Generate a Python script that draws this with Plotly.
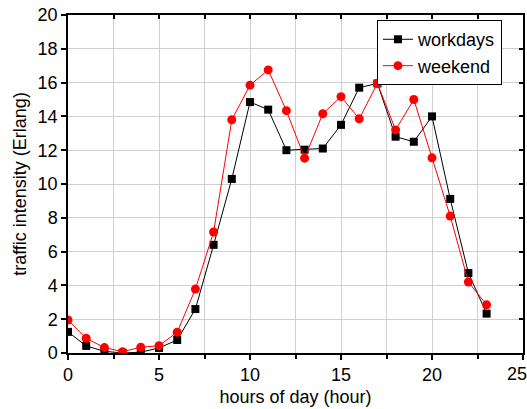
import plotly.graph_objects as go

hours = list(range(24))
workdays = [1.25, 0.42, 0.1, 0.0, 0.05, 0.3, 0.77, 2.6, 6.4, 10.3, 14.85, 14.4,
            12.0, 12.03, 12.1, 13.5, 15.7, 15.95, 12.8, 12.5, 14.0, 9.12, 4.73, 2.33]
weekend = [1.95, 0.87, 0.32, 0.08, 0.34, 0.43, 1.23, 3.78, 7.16, 13.8, 15.85, 16.75,
           14.34, 11.53, 14.16, 15.17, 13.86, 15.95, 13.2, 15.0, 11.55, 8.1, 4.2, 2.85]
x_tickvals = [0, 5, 10, 15, 20, 25]
x_ticktext = ["0", "5", "10", "15", "20", "25"]

FONT = "Liberation Sans, Arial, sans-serif"

fig = go.Figure()
fig.add_trace(go.Scatter(x=hours, y=workdays, mode="lines+markers", name="workdays",
                         line=dict(color="black", width=1),
                         marker=dict(symbol="square", size=8, color="black")))
fig.add_trace(go.Scatter(x=hours, y=weekend, mode="lines+markers", name="weekend",
                         line=dict(color="#ff0000", width=1),
                         marker=dict(symbol="circle", size=9, color="#ff0000")))

grid = "#cfcfcf"
# last tick label sits at the right edge; render it as an annotation right-aligned
shown_text = x_ticktext[:-1] + [""]
fig.update_layout(
    width=527, height=409,
    margin=dict(l=68, r=4, t=15, b=56),
    paper_bgcolor="white", plot_bgcolor="white",
    font=dict(family=FONT, size=18, color="black"),
    showlegend=True,
    legend=dict(x=0.679, y=0.985, xanchor="left", yanchor="top",
                bgcolor="white", bordercolor="black", borderwidth=1,
                font=dict(family=FONT, size=18), tracegroupgap=0),
    xaxis=dict(range=[0, 25], tickmode="array", tickvals=x_tickvals, ticktext=shown_text,
               showgrid=True, gridcolor=grid, gridwidth=1,
               ticks="outside", ticklen=5, tickwidth=1.5, tickcolor="black",
               showline=True, linecolor="black", linewidth=1.5, zeroline=False,
               minor=dict(dtick=2.5, tick0=0, showgrid=True, gridcolor=grid, gridwidth=1,
                          ticks="outside", ticklen=4, tickcolor="black", tickwidth=1.5),
               title=dict(text="hours of day (hour)", standoff=6,
                          font=dict(family=FONT, size=18)),
               tickfont=dict(family=FONT, size=18)),
    yaxis=dict(range=[0, 20], dtick=2, tick0=0, showgrid=True, gridcolor=grid, gridwidth=1,
               ticks="outside", ticklen=5, tickwidth=1.5, tickcolor="black",
               showline=True, linecolor="black", linewidth=1.5, zeroline=False,
               title=dict(text="traffic intensity (Erlang)", standoff=6,
                          font=dict(family=FONT, size=18)),
               tickfont=dict(family=FONT, size=18)),
    xaxis2=dict(overlaying="x", side="top", range=[0, 25], dtick=5, tick0=0,
                showgrid=False, showticklabels=False, ticks="inside", ticklen=4,
                tickwidth=1.5, tickcolor="black", showline=True, linecolor="black",
                linewidth=1.5, zeroline=False,
                minor=dict(dtick=2.5, ticks="inside", ticklen=4, tickcolor="black", tickwidth=1.5)),
    yaxis2=dict(overlaying="y", side="right", range=[0, 20], dtick=2, tick0=0,
                showgrid=False, showticklabels=False, ticks="inside", ticklen=4,
                tickwidth=1.5, tickcolor="black", showline=True, linecolor="black",
                linewidth=1.5, zeroline=False),
)
fig.add_annotation(x=x_tickvals[-1], xref="x", y=0, yref="paper", yanchor="top",
                   xanchor="right", xshift=6, yshift=-9, text=x_ticktext[-1],
                   showarrow=False, font=dict(family=FONT, size=18, color="black"))
fig.add_trace(go.Scatter(x=[None], y=[None], xaxis="x2", yaxis="y2", showlegend=False,
                         hoverinfo="skip"))

fig.write_html("out.html", config={"displayModeBar": False},
               post_script="document.body.style.margin='0';document.body.style.padding='0';")
